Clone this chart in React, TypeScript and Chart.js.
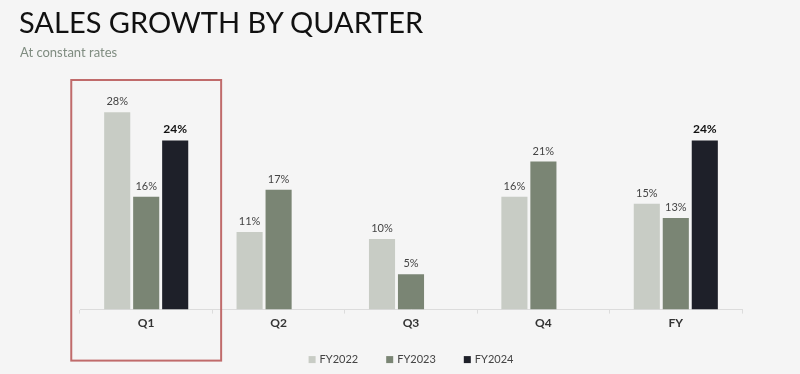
import React, { useEffect, useRef } from "react";
import { Chart, registerables } from "chart.js";

Chart.register(...registerables);

const categories = ["Q1", "Q2", "Q3", "Q4", "FY"];
const fy2022 = [28, 11, 10, 16, 15];
const fy2023 = [16, 17, 5, 21, 13];
const fy2024: (number | null)[] = [24, null, null, null, 24];
const seriesNames = ["FY2022", "FY2023", "FY2024"];
const seriesColors = ["#c8ccc5", "#7a8574", "#1e2029"];
const highlightIndex = 0;

const FONT = "Lato, 'Open Sans', sans-serif";

const labelPlugin = {
  id: "barLabels",
  afterDatasetsDraw(chart: any) {
    const ctx = chart.ctx;
    chart.data.datasets.forEach((ds: any, di: number) => {
      const meta = chart.getDatasetMeta(di);
      meta.data.forEach((bar: any, i: number) => {
        const v = ds.data[i];
        if (v === null || v === undefined) return;
        ctx.save();
        const bold = di === 2;
        ctx.font = (bold ? "bold 12px " : "11px ") + FONT;
        ctx.fillStyle = bold ? "#111" : "#444";
        ctx.textAlign = "center";
        ctx.textBaseline = "bottom";
        ctx.fillText(v + "%", bar.x, bar.y - 5);
        ctx.restore();
      });
    });
  },
};

const legendPlugin = {
  id: "customLegend",
  afterDraw(chart: any) {
    const ctx = chart.ctx;
    const { left, right, bottom } = chart.chartArea;
    const cx = (left + right) / 2;
    const y = bottom + 50;
    ctx.save();
    ctx.font = "11px " + FONT;
    ctx.textBaseline = "middle";
    const box = 7;
    const gap = 4;
    const spacing = 28;
    const widths = chart.data.datasets.map(
      (ds: any) => box + gap + ctx.measureText(ds.label).width
    );
    const total = widths.reduce((a: number, b: number) => a + b, 0) + spacing * (widths.length - 1);
    let x = cx - total / 2;
    chart.data.datasets.forEach((ds: any, i: number) => {
      ctx.fillStyle = ds.backgroundColor;
      ctx.fillRect(x, y - box / 2, box, box);
      ctx.fillStyle = "#444";
      ctx.textAlign = "left";
      ctx.fillText(ds.label, x + box + gap, y);
      x += widths[i] + spacing;
    });
    ctx.restore();
  },
};

const boxPlugin = {
  id: "highlightBox",
  afterDraw(chart: any) {
    const xs = chart.scales.x;
    const c = xs.getPixelForValue(highlightIndex);
    const w = xs.getPixelForValue(highlightIndex + 1) - c;
    const half = w * 0.566;
    const top = chart.chartArea.top - 4;
    const bottom = chart.chartArea.bottom + 51;
    const ctx = chart.ctx;
    ctx.save();
    ctx.strokeStyle = "#c06b6b";
    ctx.lineWidth = 2;
    ctx.strokeRect(c - half, top, half * 2, bottom - top);
    ctx.restore();
  },
};

export default function App() {
  const ref = useRef<HTMLCanvasElement>(null);
  useEffect(() => {
    if (!ref.current) return;
    const data = [fy2022, fy2023, fy2024];
    const chart = new Chart(ref.current, {
      type: "bar",
      data: {
        labels: categories,
        datasets: seriesNames.map((n, i) => ({
          label: n,
          data: data[i],
          backgroundColor: seriesColors[i],
          borderWidth: 0,
          categoryPercentage: 0.657,
          barPercentage: 0.9,
        })),
      },
      options: {
        animation: false,
        responsive: false,
        maintainAspectRatio: false,
        layout: { padding: { left: 80, right: 58, top: 84, bottom: 42 } },
        plugins: {
          tooltip: { enabled: false },
          legend: { display: false },
        },
        scales: {
          y: { display: false, min: 0, max: 32 },
          x: {
            border: { color: "#dcdcdc" },
            grid: {
              display: true,
              drawOnChartArea: false,
              drawTicks: true,
              tickLength: 4,
              color: "#dcdcdc",
            },
            ticks: {
              color: "#333",
              padding: 2,
              font: { family: FONT, size: 12, weight: "bold" },
            },
          },
        },
      },
      plugins: [labelPlugin, boxPlugin, legendPlugin],
    });
    return () => chart.destroy();
  }, []);
  return (
    <div
      style={{
        position: "fixed",
        left: 0,
        top: 0,
        width: 800,
        height: 374,
        background: "#f5f5f5",
        overflow: "hidden",
      }}
    >
      <canvas ref={ref} width={800} height={374} style={{ position: "absolute", left: 0, top: 0 }} />
      <div
        style={{
          position: "absolute",
          left: 19,
          top: 4,
          fontFamily: FONT,
          fontSize: 29,
          color: "#111",
          whiteSpace: "nowrap",
          lineHeight: "36px",
        }}
      >
        SALES GROWTH BY QUARTER
      </div>
      <div
        style={{
          position: "absolute",
          left: 20,
          top: 43,
          fontFamily: FONT,
          fontSize: 13,
          color: "#7f8c80",
          whiteSpace: "nowrap",
          lineHeight: "18px",
        }}
      >
        At constant rates
      </div>
    </div>
  );
}
